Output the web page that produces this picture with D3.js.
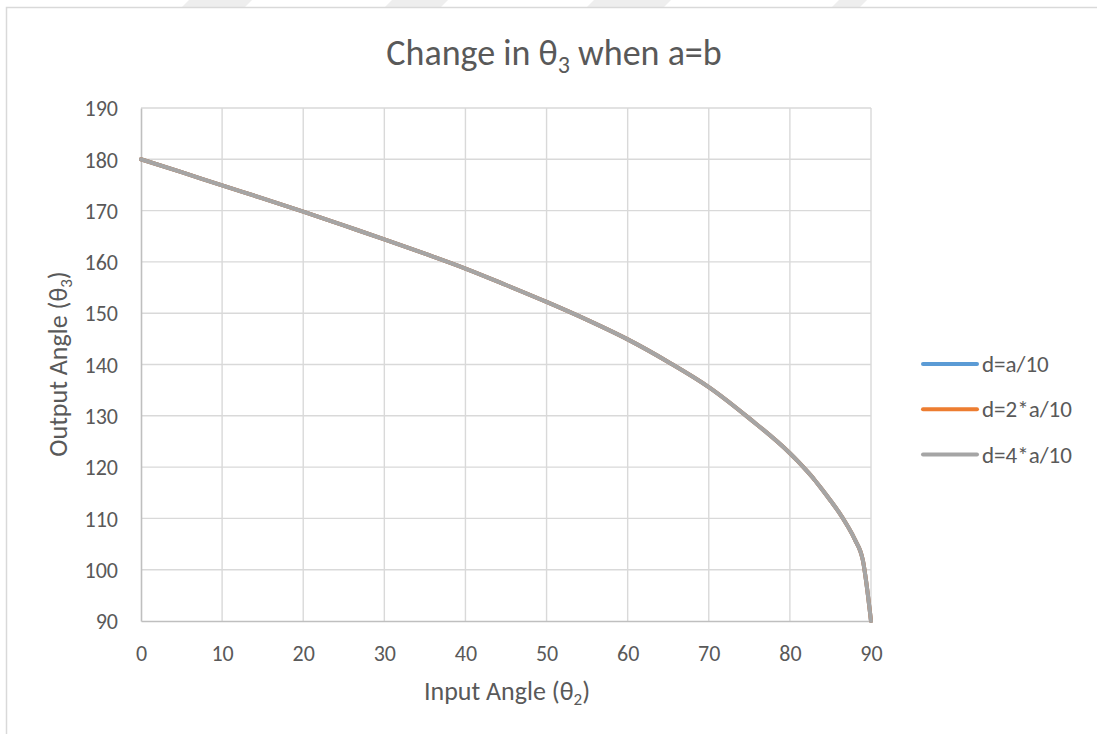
<!DOCTYPE html>
<html>
<head>
<meta charset="utf-8">
<script src="https://cdn.jsdelivr.net/npm/d3@7"></script>
<style>
  html, body { margin: 0; padding: 0; background: #fff; }
  svg text { font-family: Calibri, Carlito, Lato, sans-serif; fill: #595959; }
</style>
</head>
<body>
<div id="chart"></div>
<script>
// input angle theta2 (deg) and output angle theta3 (deg) for each d value
const inputAngle = [0, 5, 10, 15, 20, 25, 30, 35, 40, 45, 50, 55, 60, 65, 70, 75, 80, 81, 82, 83, 84, 85, 86, 87, 88, 89, 90];
const thetaD1 = [180, 177.5, 174.9, 172.4, 169.8, 167.1, 164.4, 161.6, 158.7, 155.5, 152.2, 148.7, 144.9, 140.5, 135.6, 129.5, 122.7, 121.1, 119.4, 117.6, 115.6, 113.5, 111.3, 108.8, 105.9, 101.8, 90];
const thetaD2 = [180, 177.5, 174.9, 172.4, 169.8, 167.1, 164.4, 161.6, 158.7, 155.5, 152.2, 148.7, 144.9, 140.5, 135.6, 129.5, 122.7, 121.1, 119.4, 117.6, 115.6, 113.5, 111.3, 108.8, 105.9, 101.8, 90];
const thetaD4 = [180, 177.5, 174.9, 172.4, 169.8, 167.1, 164.4, 161.6, 158.7, 155.5, 152.2, 148.7, 144.9, 140.5, 135.6, 129.5, 122.7, 121.1, 119.4, 117.6, 115.6, 113.5, 111.3, 108.8, 105.9, 101.8, 90];

const seriesNames = ['d=a/10', 'd=2*a/10', 'd=4*a/10'];
const seriesColors = ['#5B9BD5', '#ED7D31', '#A5A5A5'];
const xTicks = [0, 10, 20, 30, 40, 50, 60, 70, 80, 90];
const yTicks = [90, 100, 110, 120, 130, 140, 150, 160, 170, 180, 190];

const width = 1097;
const height = 734;
const plot = { left: 141, right: 871, top: 108, bottom: 621 };

const svg = d3.select('#chart').append('svg')
  .attr('width', width)
  .attr('height', height);

svg.append('rect').attr('width', width).attr('height', height).attr('fill', '#fff');

// faint page watermark peeking above the chart frame
const wm = svg.append('g').attr('fill', '#eeeeee');
[[189, 252], [392, 448], [594, 671], [839, 867]].forEach(([a, b]) => {
  wm.append('path').attr('d', `M${a},0 L${b},0 L${b - 8},8 L${a - 8},8 Z`);
});

// chart area frame
svg.append('rect')
  .attr('x', 6.5).attr('y', 7.5)
  .attr('width', width + 10).attr('height', height + 10)
  .attr('fill', '#fff')
  .attr('stroke', '#d9d9d9')
  .attr('stroke-width', 1.5);

const x = d3.scaleLinear().domain([0, 90]).range([plot.left, plot.right]);
const y = d3.scaleLinear().domain([90, 190]).range([plot.bottom, plot.top]);

// gridlines
const grid = svg.append('g').attr('stroke', '#d9d9d9').attr('stroke-width', 1.4);
grid.selectAll('.hg').data(yTicks.filter(v => v > 90)).enter().append('line')
  .attr('x1', plot.left).attr('x2', plot.right)
  .attr('y1', d => y(d)).attr('y2', d => y(d));
grid.selectAll('.vg').data(xTicks.filter(v => v > 0)).enter().append('line')
  .attr('y1', plot.top).attr('y2', plot.bottom)
  .attr('x1', d => x(d)).attr('x2', d => x(d));

// axes
const xAxis = svg.append('g')
  .attr('transform', `translate(0,${plot.bottom})`)
  .call(d3.axisBottom(x).tickValues(xTicks).tickSize(0));
const yAxis = svg.append('g')
  .attr('transform', `translate(${plot.left},0)`)
  .call(d3.axisLeft(y).tickValues(yTicks).tickSize(0));

[xAxis, yAxis].forEach(ax => {
  ax.select('.domain').attr('stroke', '#bfbfbf').attr('stroke-width', 1.6);
  ax.selectAll('text')
    .style('font-family', 'Calibri, Carlito, Lato, sans-serif')
    .attr('fill', '#595959')
    .attr('font-size', 22)
    .attr('dy', '0.35em');
});
xAxis.selectAll('text').attr('y', 32);
yAxis.selectAll('text').attr('x', -23);

// series lines
const line = d3.line()
  .x((d, i) => x(inputAngle[i]))
  .y(d => y(d))
  .curve(d3.curveMonotoneX);

[thetaD1, thetaD2, thetaD4].forEach((vals, i) => {
  svg.append('path')
    .datum(vals)
    .attr('d', line)
    .attr('fill', 'none')
    .attr('stroke', seriesColors[i])
    .attr('stroke-width', 4)
    .attr('stroke-linejoin', 'round')
    .attr('stroke-linecap', 'round');
});

// title
const title = svg.append('text')
  .attr('x', 554).attr('y', 65)
  .attr('text-anchor', 'middle')
  .attr('font-size', 36);
title.append('tspan').text('Change in θ');
title.append('tspan').attr('font-size', 24).attr('dy', 8).text('3');
title.append('tspan').attr('dy', -8).text(' when a=b');

// axis titles
const xTitle = svg.append('text')
  .attr('x', 507).attr('y', 700)
  .attr('text-anchor', 'middle')
  .attr('font-size', 26);
xTitle.append('tspan').text('Input Angle (θ');
xTitle.append('tspan').attr('font-size', 17).attr('dy', 5).text('2');
xTitle.append('tspan').attr('dy', -5).text(')');

const yTitle = svg.append('text')
  .attr('transform', 'translate(67,364) rotate(-90)')
  .attr('text-anchor', 'middle')
  .attr('font-size', 26);
yTitle.append('tspan').text('Output Angle (θ');
yTitle.append('tspan').attr('font-size', 17).attr('dy', 5).text('3');
yTitle.append('tspan').attr('dy', -5).text(')');

// legend
const legend = svg.append('g');
seriesNames.forEach((name, i) => {
  const ly = 364 + i * 45.3;
  legend.append('line')
    .attr('x1', 923).attr('x2', 977)
    .attr('y1', ly).attr('y2', ly)
    .attr('stroke', seriesColors[i])
    .attr('stroke-width', 4)
    .attr('stroke-linecap', 'round');
  legend.append('text')
    .attr('x', 982).attr('y', ly)
    .attr('dy', '0.35em')
    .attr('font-size', 23)
    .text(name);
});
</script>
</body>
</html>
